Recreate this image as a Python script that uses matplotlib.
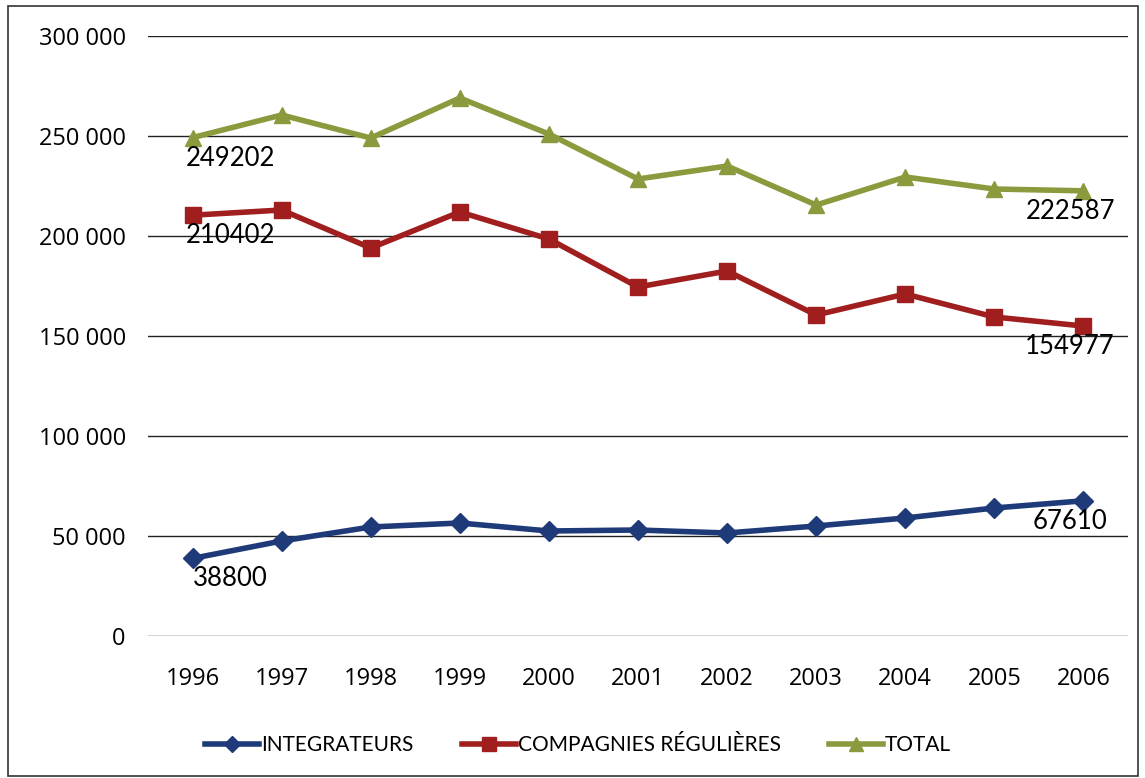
import numpy as np
from matplotlib import pyplot as plt
from matplotlib.patches import Rectangle

years = ['1996', '1997', '1998', '1999', '2000', '2001', '2002', '2003', '2004', '2005', '2006']
integrateurs = [38800, 47500, 54500, 56500, 52500, 53000, 51500, 55000, 59000, 64000, 67610]
compagnies = [210402, 213000, 194000, 212000, 198500, 174500, 182500, 160500, 171000, 159500, 154977]
total = [249202, 260500, 249000, 269000, 251000, 228500, 235000, 215500, 229500, 223500, 222587]

plt.rcParams['font.family'] = ['Lato', 'DejaVu Sans']

fig = plt.figure(figsize=(11.45, 7.78), dpi=100)
ax = fig.add_axes([148/1145, 1 - 636/778, (1128-148)/1145, 600/778])

x = np.arange(len(years))
ax.plot(x, integrateurs, color='#1F3A78', lw=4, marker='D', ms=10, label='INTEGRATEURS', zorder=3)
ax.plot(x, compagnies, color='#A11E1E', lw=4, marker='s', ms=12, label='COMPAGNIES RÉGULIÈRES', zorder=3)
ax.plot(x, total, color='#8A9A3C', lw=4, marker='^', ms=12, label='TOTAL', zorder=3)

# value labels on first and last points
for series in (integrateurs, compagnies, total):
    ax.text(x[0] + 0.42, series[0] - 4000, str(series[0]), fontsize=18.5, ha='center', va='top')
    ax.text(x[-1] - 0.15, series[-1] - 4000, str(series[-1]), fontsize=18.5, ha='center', va='top')

ax.set_xlim(-0.5, 10.5)
ax.set_ylim(0, 300000)
ax.set_yticks(range(0, 300001, 50000))
ax.set_yticklabels(['0' if v == 0 else f'{v // 1000} 000' for v in range(0, 300001, 50000)],
                   family=['Open Sans', 'DejaVu Sans'])
ax.set_xticks(x)
ax.set_xticklabels(years, family=['Open Sans', 'DejaVu Sans'])
ax.tick_params(axis='both', length=0, labelsize=17)
ax.tick_params(axis='y', pad=16)
ax.tick_params(axis='x', pad=22)
ax.yaxis.grid(True, color='#222222', lw=1)
ax.set_axisbelow(True)
for s in ax.spines.values():
    s.set_visible(False)

fig.legend(loc='center', bbox_to_anchor=(0.505, 1 - 745/778), ncol=3, frameon=False,
           fontsize=15, handlelength=2.6, columnspacing=2.3, handletextpad=0.1, markerscale=0.8)

fig.patches.append(Rectangle((8/1145, 2/778), 1130/1145, 770/778, transform=fig.transFigure,
                             fill=False, edgecolor='#333333', lw=1.2))

fig.savefig('out.png', dpi=100)
